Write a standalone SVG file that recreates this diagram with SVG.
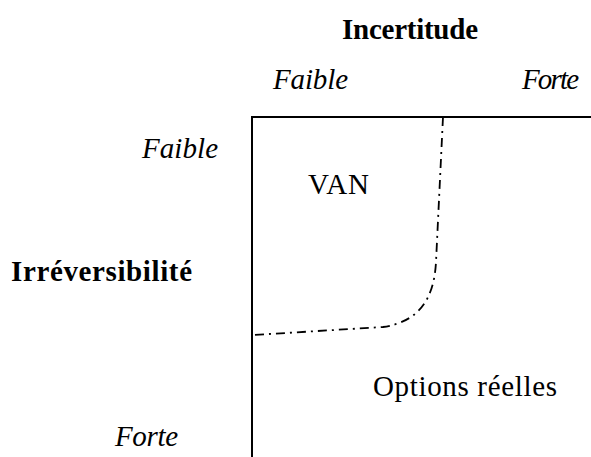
<svg xmlns="http://www.w3.org/2000/svg" width="591" height="457" viewBox="0 0 591 457">
<style>
.t{font-family:"Liberation Serif","Times New Roman",serif;font-size:29px;fill:#000}
.b{font-weight:bold}
.i{font-style:italic}
.ax{stroke:#000;stroke-width:2;fill:none}
.dd{stroke:#000;stroke-width:1.8;fill:none;stroke-dasharray:9 5 2 5}
</style>
<rect width="591" height="457" fill="#fff"/>
<g id="axes">
<line class="ax" x1="252" y1="117" x2="591" y2="117"/>
<line class="ax" x1="252" y1="116" x2="252" y2="457"/>
</g>
<g id="connectors">
<path class="dd" d="M443,117 L436,262 C434,300 418,322 383,327 L253,335"/>
</g>
<g id="title"><text class="t b" x="410" y="39" text-anchor="middle" textLength="136" lengthAdjust="spacing">Incertitude</text></g>
<g id="top-faible"><text class="t i" x="273" y="89" textLength="75" lengthAdjust="spacing">Faible</text></g>
<g id="top-forte"><text class="t i" x="522" y="89" textLength="57" lengthAdjust="spacing">Forte</text></g>
<g id="left-faible"><text class="t i" x="142" y="158" textLength="76" lengthAdjust="spacing">Faible</text></g>
<g id="irrev"><text class="t b" x="11" y="281" textLength="181" lengthAdjust="spacing">Irréversibilité</text></g>
<g id="left-forte"><text class="t i" x="115" y="446" textLength="63" lengthAdjust="spacing">Forte</text></g>
<g id="van"><text class="t" x="308" y="194" textLength="61" lengthAdjust="spacing">VAN</text></g>
<g id="options"><text class="t" x="373" y="396" textLength="184" lengthAdjust="spacing">Options réelles</text></g>
</svg>
